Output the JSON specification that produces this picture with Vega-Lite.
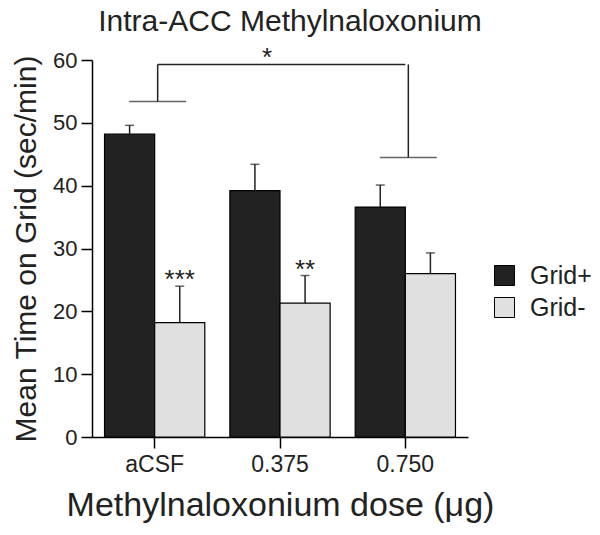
{
  "$schema": "https://vega.github.io/schema/vega-lite/v6.json",
  "autosize": {"type": "none"},
  "padding": {"left": 92, "top": 60, "right": 132, "bottom": 98},
  "width": 376,
  "height": 377,
  "config": {
    "font": "Liberation Sans",
    "view": {"stroke": null},
    "axis": {"grid": false, "domainColor": "black", "domainWidth": 1.5, "tickColor": "black", "tickWidth": 1.5, "tickSize": 11, "labelColor": "#222", "titleColor": "#222", "titleFontWeight": "normal"}
  },
  "title": {"text": "Intra-ACC Methylnaloxonium", "fontSize": 30, "fontWeight": "normal", "color": "#222", "anchor": "middle", "frame": "group", "offset": 8, "dx": 10},
  "datasets": {
    "bars": [
      {"dose": "aCSF", "group": "Grid+", "mean": 48.2, "upper": 49.6, "star": ""},
      {"dose": "aCSF", "group": "Grid-", "mean": 18.2, "upper": 24.0, "star": "***"},
      {"dose": "0.375", "group": "Grid+", "mean": 39.2, "upper": 43.4, "star": ""},
      {"dose": "0.375", "group": "Grid-", "mean": 21.3, "upper": 25.7, "star": "**"},
      {"dose": "0.750", "group": "Grid+", "mean": 36.6, "upper": 40.1, "star": ""},
      {"dose": "0.750", "group": "Grid-", "mean": 26.0, "upper": 29.3, "star": ""}
    ],
    "bracketEnds": [
      {"dose": "aCSF", "low": 53.4, "high": 59.3},
      {"dose": "0.750", "low": 44.5, "high": 59.3}
    ],
    "bracketTop": [
      {"dose": "aCSF", "dose2": "0.750", "high": 59.3}
    ],
    "bracketStar": [
      {"dose": "0.375", "high": 59.3, "star": "*"}
    ]
  },
  "encoding": {
    "x": {
      "field": "dose", "type": "nominal",
      "scale": {"domain": ["aCSF", "0.375", "0.750"], "paddingInner": 0.2, "paddingOuter": 0.1},
      "axis": {"title": "Methylnaloxonium dose (μg)", "titleFontSize": 34, "titlePadding": 12, "labelFontSize": 23, "labelPadding": 5, "labelAngle": 0}
    }
  },
  "layer": [
    {
      "data": {"name": "bars"},
      "mark": {"type": "bar", "stroke": "black", "strokeWidth": 1.2},
      "encoding": {
        "xOffset": {"field": "group", "type": "nominal", "scale": {"domain": ["Grid+", "Grid-"], "paddingInner": 0, "paddingOuter": 0}},
        "y": {"field": "mean", "type": "quantitative", "scale": {"domain": [0, 60]},
              "axis": {"title": "Mean Time on Grid (sec/min)", "titleFontSize": 30, "titlePadding": 11, "labelFontSize": 22, "labelPadding": 4, "values": [0, 10, 20, 30, 40, 50, 60]}},
        "color": {"field": "group", "type": "nominal",
                  "scale": {"domain": ["Grid+", "Grid-"], "range": ["#222222", "#e0e0e0"]},
                  "legend": {"title": null, "orient": "none", "legendX": 400, "legendY": 203, "symbolType": "square", "symbolSize": 400, "symbolStrokeColor": "black", "symbolStrokeWidth": 1, "symbolOpacity": 1, "labelFontSize": 25, "labelColor": "#222", "labelOffset": 13, "rowPadding": 6}}
      }
    },
    {
      "data": {"name": "bars"},
      "mark": {"type": "rule", "strokeWidth": 1.5, "color": "#222"},
      "encoding": {
        "xOffset": {"field": "group", "type": "nominal"},
        "y": {"field": "mean", "type": "quantitative"},
        "y2": {"field": "upper"}
      }
    },
    {
      "data": {"name": "bars"},
      "mark": {"type": "tick", "thickness": 1.5, "size": 9, "color": "#222", "orient": "horizontal"},
      "encoding": {
        "xOffset": {"field": "group", "type": "nominal"},
        "y": {"field": "upper", "type": "quantitative"}
      }
    },
    {
      "data": {"name": "bars"},
      "transform": [{"filter": "datum.star != ''"}],
      "mark": {"type": "text", "fontSize": 26, "baseline": "alphabetic", "color": "#222", "dy": 2},
      "encoding": {
        "xOffset": {"field": "group", "type": "nominal"},
        "y": {"field": "upper", "type": "quantitative"},
        "text": {"field": "star"}
      }
    },
    {
      "data": {"name": "bracketEnds"},
      "mark": {"type": "tick", "thickness": 1.5, "size": 57, "color": "#222", "orient": "horizontal", "xOffset": 3},
      "encoding": {
        "y": {"field": "low", "type": "quantitative"}
      }
    },
    {
      "data": {"name": "bracketEnds"},
      "mark": {"type": "rule", "strokeWidth": 1.5, "color": "#222", "xOffset": 3},
      "encoding": {
        "y": {"field": "low", "type": "quantitative"},
        "y2": {"field": "high"}
      }
    },
    {
      "data": {"name": "bracketTop"},
      "mark": {"type": "rule", "strokeWidth": 1.5, "color": "#222", "xOffset": 3},
      "encoding": {
        "x2": {"field": "dose2"},
        "y": {"field": "high", "type": "quantitative"}
      }
    },
    {
      "data": {"name": "bracketStar"},
      "mark": {"type": "text", "fontSize": 26, "baseline": "alphabetic", "color": "#222", "dx": -13, "dy": 2},
      "encoding": {
        "y": {"field": "high", "type": "quantitative"},
        "text": {"field": "star"}
      }
    }
  ]
}
